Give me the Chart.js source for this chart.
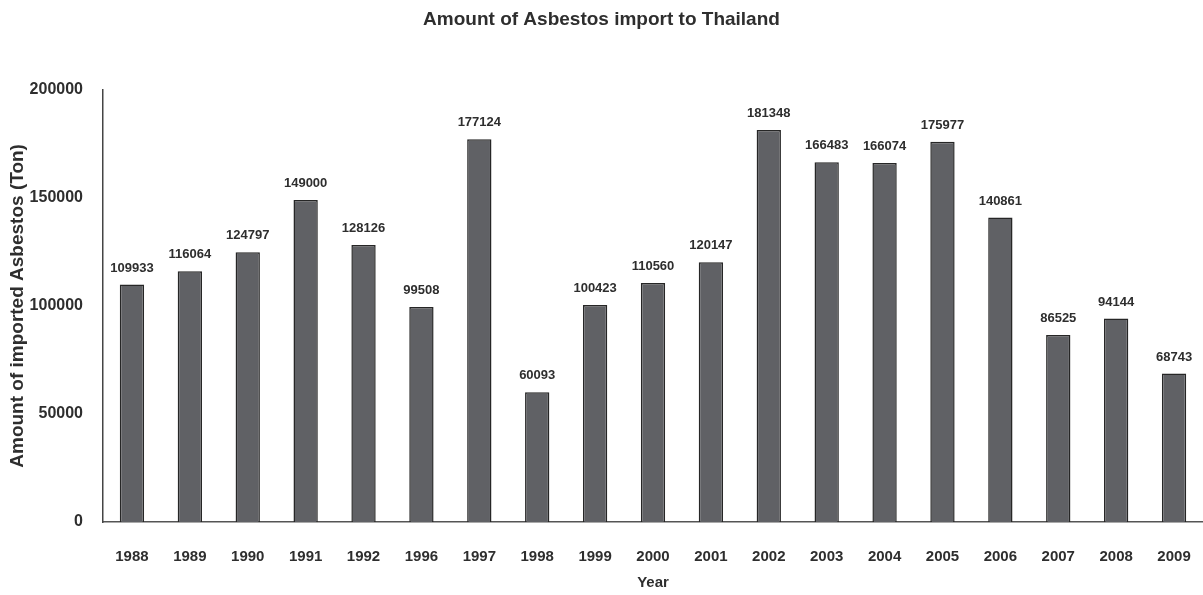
<!DOCTYPE html>
<html>
<head>
<meta charset="utf-8">
<script src="https://cdn.jsdelivr.net/npm/chart.js@4/dist/chart.umd.min.js"></script>
<style>
  html, body { margin: 0; padding: 0; background: #fff; }
  #wrap { width: 1203px; height: 595px; }
</style>
</head>
<body>
<div id="wrap"><canvas id="chart" width="1203" height="595"></canvas></div>
<script>
// Chart data
const years = ['1988', '1989', '1990', '1991', '1992', '1996', '1997', '1998', '1999', '2000',
  '2001', '2002', '2003', '2004', '2005', '2006', '2007', '2008', '2009'];
const importTons = [109933, 116064, 124797, 149000, 128126, 99508, 177124, 60093, 100423, 110560,
  120147, 181348, 166483, 166074, 175977, 140861, 86525, 94144, 68743];
const yTicks = [0, 50000, 100000, 150000, 200000];

const FONT = "'Liberation Sans', Arial, sans-serif";
const TEXT = '#2e2e2e';

// Value labels above each bar
const barLabels = {
  id: 'barLabels',
  afterDatasetsDraw(chart) {
    const ctx = chart.ctx;
    const meta = chart.getDatasetMeta(0);
    ctx.save();
    ctx.font = 'bold 13px ' + FONT;
    ctx.fillStyle = TEXT;
    ctx.textAlign = 'center';
    ctx.textBaseline = 'bottom';
    meta.data.forEach((bar, i) => {
      ctx.fillText(importTons[i], bar.x, bar.y - 10);
    });
    ctx.restore();
  }
};

new Chart(document.getElementById('chart'), {
  type: 'bar',
  data: {
    labels: years,
    datasets: [{
      data: importTons,
      backgroundColor: '#606165',
      borderColor: '#262626',
      borderWidth: 1.5,
      barPercentage: 0.42,
      categoryPercentage: 1
    }]
  },
  options: {
    responsive: false,
    animation: false,
    layout: { padding: 0 },
    plugins: {
      legend: { display: false },
      tooltip: { enabled: false },
      title: {
        display: true,
        text: 'Amount of Asbestos import to Thailand',
        color: TEXT,
        font: { family: FONT, size: 19, weight: 'bold' },
        padding: { top: 8, bottom: 59 }
      }
    },
    scales: {
      x: {
        grid: { display: false },
        border: { display: true, color: '#555', width: 1.5 },
        ticks: { color: TEXT, font: { family: FONT, size: 15, weight: 'bold' }, padding: 18, maxRotation: 0 },
        title: {
          display: true,
          text: 'Year',
          color: TEXT,
          font: { family: FONT, size: 15, weight: 'bold' },
          padding: { top: 0, bottom: 3 }
        },
        afterFit(scale) {
          scale.height = 73;
          // let the axis run to the right edge like the original
          scale.paddingLeft = 0;
          scale.paddingRight = 0;
        }
      },
      y: {
        min: 0,
        max: 200000,
        afterBuildTicks(scale) { scale.ticks = yTicks.map(v => ({ value: v })); },
        grid: { display: false },
        border: { display: true, color: '#444', width: 1.5 },
        ticks: {
          color: TEXT,
          font: { family: FONT, size: 16, weight: 'bold' },
          padding: 12,
          callback: v => String(v)
        },
        title: {
          display: true,
          text: 'Amount of imported Asbestos (Ton)',
          color: TEXT,
          font: { family: FONT, size: 19, weight: 'bold' },
          padding: { top: 6, bottom: 0 }
        },
        afterFit(scale) { scale.width = 103; }
      }
    }
  },
  plugins: [barLabels]
});
</script>
</body>
</html>
